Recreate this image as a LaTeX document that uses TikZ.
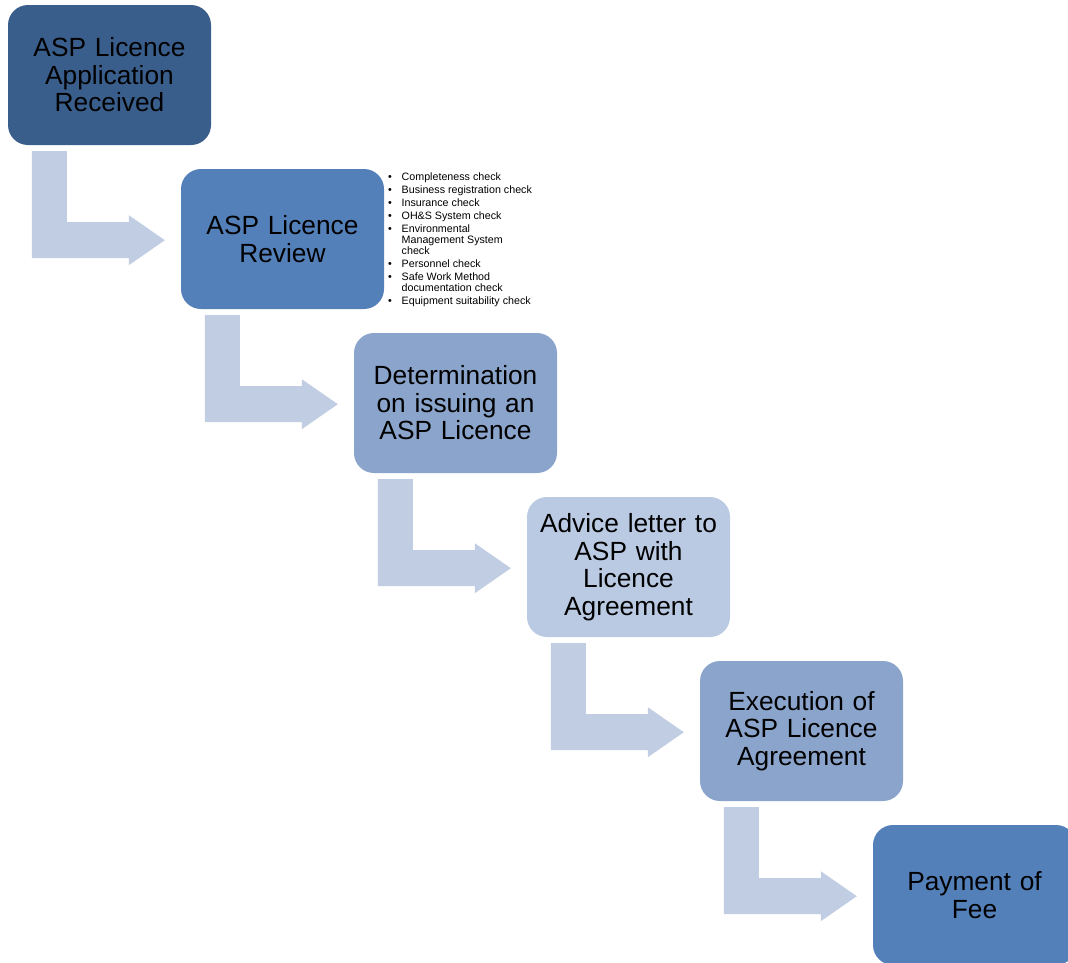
\documentclass[tikz,border=0pt]{standalone}
\usepackage{fontspec}
\setmainfont{Liberation Sans}
\usetikzlibrary{calc}
\definecolor{bA}{HTML}{3A5E8C}
\definecolor{bB}{HTML}{5480BA}
\definecolor{bC}{HTML}{8AA4CB}
\definecolor{bD}{HTML}{BACAE3}
\definecolor{arr}{HTML}{C1CDE3}
\tikzset{
  x=1pt, y=1pt,
  box/.style={rounded corners=20pt, minimum width=203pt, minimum height=140pt,
    inner sep=0pt, align=center, text width=198pt,
    font=\fontsize{26.3}{27.5}\selectfont, text=black},
  larrow/.style={fill=arr, draw=none}
}
\newcommand{\Larrow}[1]{%
  \fill[larrow] ($(#1.south west)+(24,-6)$) -- ++(35,0) -- ++(0,-71) -- ++(62,0)
    -- ++(0,7) -- ++(36,-25) -- ++(-36,-25) -- ++(0,7) -- ++(-97,0) -- cycle;}
\begin{document}
\begin{tikzpicture}
\useasboundingbox (0,0) rectangle (1068,-962);
\clip (0,0) rectangle (1068,-962);
\node[box, fill=bA] (b1) at (109.5,-75) {ASP Licence\\Application\\Received};
\node[box, fill=bB] (b2) at (282.5,-239) {ASP Licence\\Review};
\node[box, fill=bC] (b3) at (455.5,-403) {Determination\\on issuing an\\ASP Licence};
\node[box, fill=bD] (b4) at (628.5,-567) {Advice letter to\\ASP with\\Licence\\Agreement};
\node[box, fill=bC] (b5) at (801.5,-731) {Execution of\\ASP Licence\\Agreement};
\node[box, fill=bB] (b6) at (974.5,-895) {Payment of\\Fee};
\Larrow{b1}
\Larrow{b2}
\Larrow{b3}
\Larrow{b4}
\Larrow{b5}
\node[anchor=north west, inner sep=0pt, font=\fontsize{10.7}{11}\selectfont] (list) at (388,-172.5)
{\begin{tabular}{@{}p{13.5pt}@{}l@{}}
\textbullet & Completeness check\\[2pt]
\textbullet & Business registration check\\[2pt]
\textbullet & Insurance check\\[2pt]
\textbullet & OH\&S System check\\[2pt]
\textbullet & Environmental\\
 & Management System\\
 & check\\[2pt]
\textbullet & Personnel check\\[2pt]
\textbullet & Safe Work Method\\
 & documentation check\\[2pt]
\textbullet & Equipment suitability check
\end{tabular}};
\end{tikzpicture}
\end{document}
